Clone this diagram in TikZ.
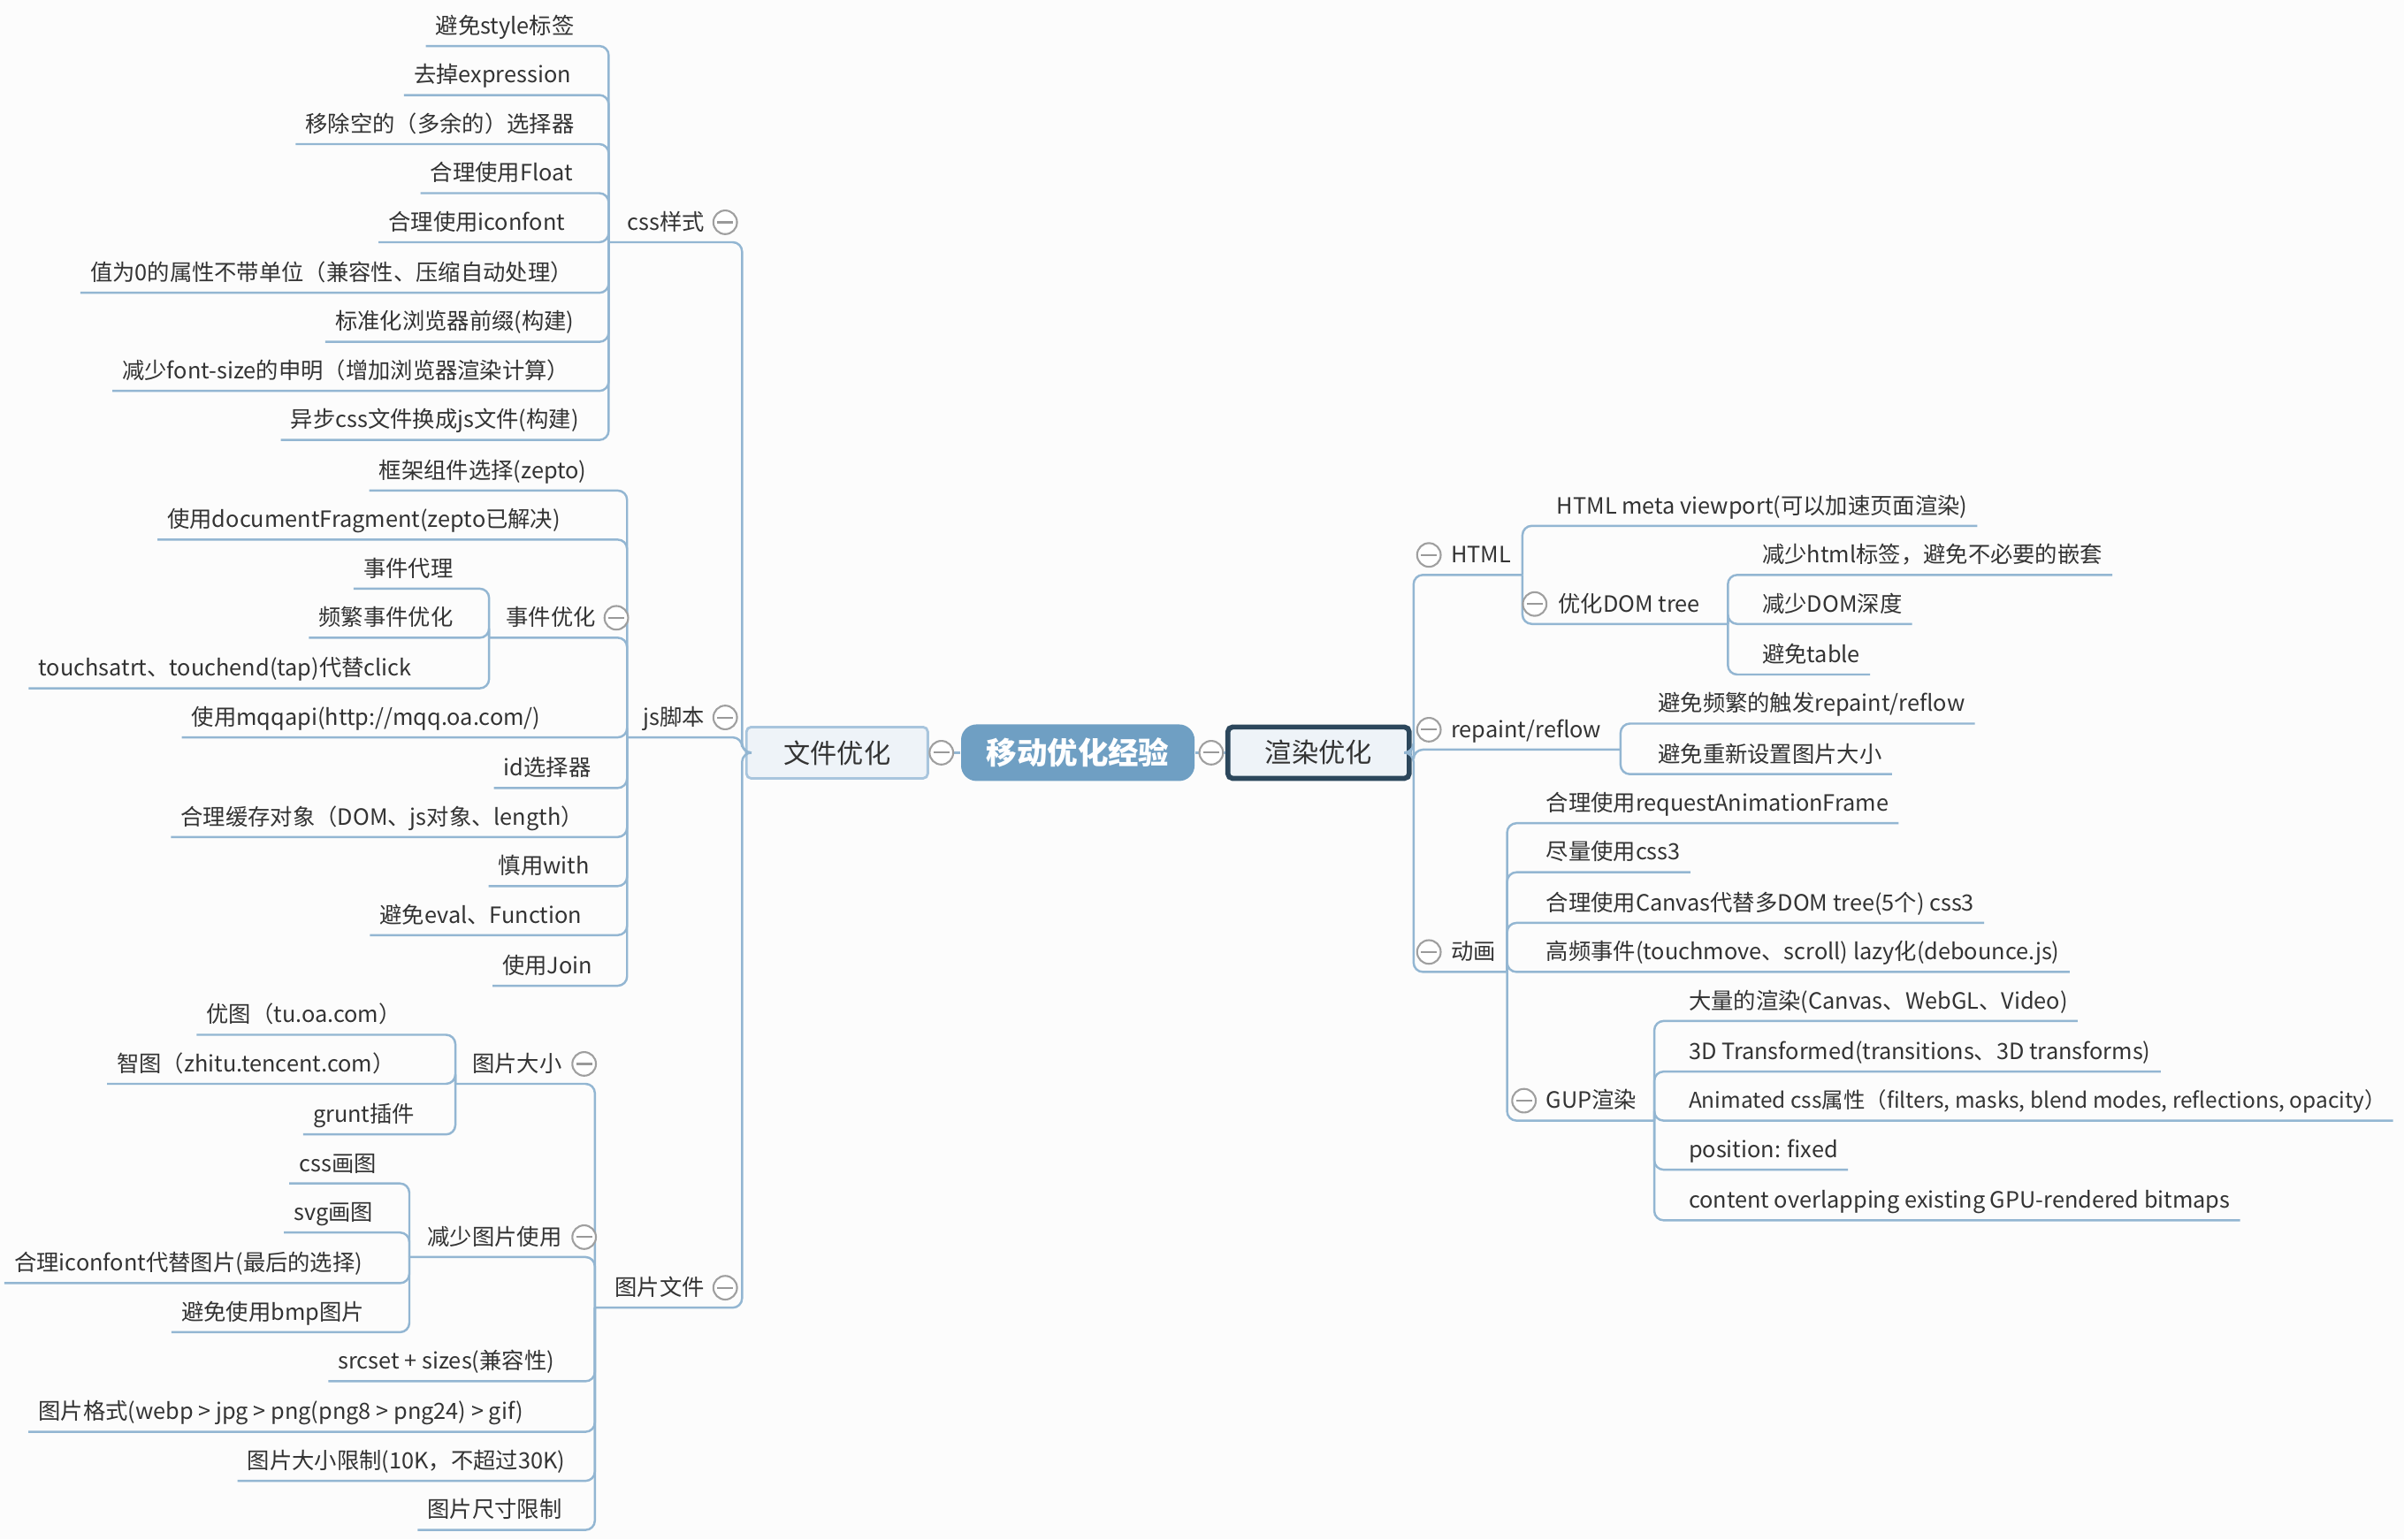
\documentclass[tikz,border=0pt]{standalone}
\usepackage{xcolor}
\usepackage{tikz}
\usepackage{fontspec}
\setmainfont{Noto Sans CJK SC}

\definecolor{linkblue}{HTML}{93B6D2}
\definecolor{rootblue}{HTML}{6F9FC3}
\definecolor{mainfill}{HTML}{EEF3F8}
\definecolor{mainedge}{HTML}{A8C5DD}
\definecolor{darkedge}{HTML}{2C475C}
\definecolor{inktext}{HTML}{333333}
\definecolor{paper}{HTML}{FCFCFC}

\begin{document}
\begin{tikzpicture}[x=0.01734cm, y=-0.01734cm,
    leaf/.style={text=inktext, font=\fontsize{7.2}{8}\selectfont, inner xsep=3pt, inner ysep=2.5pt, text height=6.3pt, text depth=1.2pt},
    branch/.style={draw=linkblue, line width=0.7pt, rounded corners=3pt},
    fold/.style={circle, draw=gray!75, fill=white, line width=0.6pt, minimum size=7.6pt, inner sep=0pt,
        path picture={\draw[gray!80, line width=0.6pt] ([xshift=1.2pt]path picture bounding box.west) -- ([xshift=-1.2pt]path picture bounding box.east);}},
    rootbox/.style={rounded corners=5pt, fill=rootblue, text=white, font=\fontsize{9.8}{11}\selectfont\bfseries, minimum width=2.64cm, minimum height=0.64cm},
    mainbox/.style={fill=mainfill, text=inktext, font=\fontsize{8.6}{10}\selectfont, minimum width=2.05cm, minimum height=0.58cm, rounded corners=1.5pt}]
    \useasboundingbox (0,0) rectangle (1568,1004);
    \fill[paper] (0,0) rectangle (1568,1004);

    % Nodes
    \node (root) [rootbox] at (703,491) {移动优化经验};
    \node (file) [mainbox, draw=mainedge, line width=0.8pt] at (546,491) {文件优化};
    \node (render) [mainbox, draw=darkedge, line width=1.6pt] at (860,491) {渲染优化};

    % left side: css
    \coordinate (filej) at (484,491);
    \coordinate (cssj) at (397,158);
    \node (css) [leaf, anchor=south east] at (466,158) {css样式};
    \node (cs1) [leaf, anchor=south east] at (381,30) {避免style标签};
    \node (cs2) [leaf, anchor=south east] at (379,62) {去掉expression};
    \node (cs3) [leaf, anchor=south east] at (381,94) {移除空的（多余的）选择器};
    \node (cs4) [leaf, anchor=south east] at (380,126) {合理使用Float};
    \node (cs5) [leaf, anchor=south east] at (375,158) {合理使用iconfont};
    \node (cs6) [leaf, anchor=south east] at (380,191) {值为0的属性不带单位（兼容性、压缩自动处理）};
    \node (cs7) [leaf, anchor=south east] at (381,223) {标准化浏览器前缀(构建)};
    \node (cs8) [leaf, anchor=south east] at (378,255) {减少font-size的申明（增加浏览器渲染计算）};
    \node (cs9) [leaf, anchor=south east] at (384,287) {异步css文件换成js文件(构建)};

    % left side: js
    \coordinate (jsj) at (409,481);
    \coordinate (evtj) at (319,416);
    \node (js) [leaf, anchor=south east] at (466,481) {js脚本};
    \node (js1) [leaf, anchor=south east] at (389,320) {框架组件选择(zepto)};
    \node (js2) [leaf, anchor=south east] at (372,352) {使用documentFragment(zepto已解决)};
    \node (evt) [leaf, anchor=south east] at (395,416) {事件优化};
    \node (ev1) [leaf, anchor=south east] at (302,384) {事件代理};
    \node (ev2) [leaf, anchor=south east] at (302,416) {频繁事件优化};
    \node (ev3) [leaf, anchor=south east] at (275,449) {touchsatrt、touchend(tap)代替click};
    \node (js3) [leaf, anchor=south east] at (359,481) {使用mqqapi(http://mqq.oa.com/)};
    \node (js4) [leaf, anchor=south east] at (392,514) {id选择器};
    \node (js5) [leaf, anchor=south east] at (387,546) {合理缓存对象（DOM、js对象、length）};
    \node (js6) [leaf, anchor=south east] at (391,578) {慎用with};
    \node (js7) [leaf, anchor=south east] at (386,610) {避免eval、Function};
    \node (js8) [leaf, anchor=south east] at (393,643) {使用Join};

    % left side: pictures
    \coordinate (picj) at (388,853);
    \coordinate (sizej) at (297,707);
    \coordinate (lessj) at (267,820);
    \node (pic) [leaf, anchor=south east] at (466,853) {图片文件};
    \node (size) [leaf, anchor=south east] at (373,707) {图片大小};
    \node (sz1) [leaf, anchor=south east] at (268,675) {优图（tu.oa.com）};
    \node (sz2) [leaf, anchor=south east] at (264,707) {智图（zhitu.tencent.com）};
    \node (sz3) [leaf, anchor=south east] at (277,740) {grunt插件};
    \node (less) [leaf, anchor=south east] at (373,820) {减少图片使用};
    \node (ls1) [leaf, anchor=south east] at (252,772) {css画图};
    \node (ls2) [leaf, anchor=south east] at (250,804) {svg画图};
    \node (ls3) [leaf, anchor=south east] at (243,837) {合理iconfont代替图片(最后的选择)};
    \node (ls4) [leaf, anchor=south east] at (244,869) {避免使用bmp图片};
    \node (pc1) [leaf, anchor=south east] at (368,901) {srcset + sizes(兼容性)};
    \node (pc2) [leaf, anchor=south east] at (348,934) {图片格式(webp > jpg > png(png8 > png24) > gif)};
    \node (pc3) [leaf, anchor=south east] at (375,966) {图片大小限制(10K，不超过30K)};
    \node (pc4) [leaf, anchor=south east] at (373,998) {图片尺寸限制};

    % right side
    \coordinate (renderj) at (922,491);
    \coordinate (htmlj) at (993,375);
    \coordinate (domj) at (1127,407);
    \coordinate (paintj) at (1057,489);
    \coordinate (animj) at (983,634);
    \coordinate (gpuj) at (1079,731);
    \node (html) [leaf, anchor=south west] at (940,375) {HTML};
    \node (ht1) [leaf, anchor=south west] at (1009,343) {HTML meta viewport(可以加速页面渲染)};
    \node (dom) [leaf, anchor=south west] at (1010,407) {优化DOM tree};
    \node (dm1) [leaf, anchor=south west] at (1143,375) {减少html标签，避免不必要的嵌套};
    \node (dm2) [leaf, anchor=south west] at (1143,407) {减少DOM深度};
    \node (dm3) [leaf, anchor=south west] at (1143,440) {避免table};
    \node (paint) [leaf, anchor=south west] at (940,489) {repaint/reflow};
    \node (rp1) [leaf, anchor=south west] at (1075,472) {避免频繁的触发repaint/reflow};
    \node (rp2) [leaf, anchor=south west] at (1075,505) {避免重新设置图片大小};
    \node (anim) [leaf, anchor=south west] at (940,634) {动画};
    \node (an1) [leaf, anchor=south west] at (1002,537) {合理使用requestAnimationFrame};
    \node (an2) [leaf, anchor=south west] at (1002,569) {尽量使用css3};
    \node (an3) [leaf, anchor=south west] at (1002,602) {合理使用Canvas代替多DOM tree(5个) css3};
    \node (an4) [leaf, anchor=south west] at (1002,634) {高频事件(touchmove、scroll) lazy化(debounce.js)};
    \node (gpu) [leaf, anchor=south west] at (1002,731) {GUP渲染};
    \node (gp1) [leaf, anchor=south west] at (1095,666) {大量的渲染(Canvas、WebGL、Video)};
    \node (gp2) [leaf, anchor=south west] at (1095,699) {3D Transformed(transitions、3D transforms)};
    \node (gp3) [leaf, anchor=south west, font=\fontsize{6.95}{8}\selectfont, inner xsep=2pt] at (1097,731) {Animated css属性（filters, masks, blend modes, reflections, opacity）};
    \node (gp4) [leaf, anchor=south west] at (1095,763) {position: fixed};
    \node (gp5) [leaf, anchor=south west] at (1095,796) {content overlapping existing GPU-rendered bitmaps};

    % Connectors
    \draw[branch] (root) -- (file);
    \draw[branch] (root) -- (render);

    \draw[branch] (file.west) -- (filej) |- (cssj);
    \draw[branch] (file.west) -- (filej) |- (jsj);
    \draw[branch] (file.west) -- (filej) |- (picj);

    \draw[branch] (cssj) |- (cs1.south west);
    \draw[branch] (cssj) |- (cs2.south west);
    \draw[branch] (cssj) |- (cs3.south west);
    \draw[branch] (cssj) |- (cs4.south west);
    \draw[branch] (cssj) |- (cs5.south west);
    \draw[branch] (cssj) |- (cs6.south west);
    \draw[branch] (cssj) |- (cs7.south west);
    \draw[branch] (cssj) |- (cs8.south west);
    \draw[branch] (cssj) |- (cs9.south west);

    \draw[branch] (jsj) |- (js1.south west);
    \draw[branch] (jsj) |- (js2.south west);
    \draw[branch] (jsj) |- (evtj);
    \draw[branch] (evtj) |- (ev1.south west);
    \draw[branch] (evtj) |- (ev2.south west);
    \draw[branch] (evtj) |- (ev3.south west);
    \draw[branch] (jsj) |- (js3.south west);
    \draw[branch] (jsj) |- (js4.south west);
    \draw[branch] (jsj) |- (js5.south west);
    \draw[branch] (jsj) |- (js6.south west);
    \draw[branch] (jsj) |- (js7.south west);
    \draw[branch] (jsj) |- (js8.south west);

    \draw[branch] (picj) |- (sizej);
    \draw[branch] (sizej) |- (sz1.south west);
    \draw[branch] (sizej) |- (sz2.south west);
    \draw[branch] (sizej) |- (sz3.south west);
    \draw[branch] (picj) |- (lessj);
    \draw[branch] (lessj) |- (ls1.south west);
    \draw[branch] (lessj) |- (ls2.south west);
    \draw[branch] (lessj) |- (ls3.south west);
    \draw[branch] (lessj) |- (ls4.south west);
    \draw[branch] (picj) |- (pc1.south west);
    \draw[branch] (picj) |- (pc2.south west);
    \draw[branch] (picj) |- (pc3.south west);
    \draw[branch] (picj) |- (pc4.south west);

    \draw[branch] (render.east) -- (renderj) |- (htmlj);
    \draw[branch] (render.east) -- (renderj) |- (paintj);
    \draw[branch] (render.east) -- (renderj) |- (animj);

    \draw[branch] (htmlj) |- (ht1.south east);
    \draw[branch] (htmlj) |- (domj);
    \draw[branch] (domj) |- (dm1.south east);
    \draw[branch] (domj) |- (dm2.south east);
    \draw[branch] (domj) |- (dm3.south east);
    \draw[branch] (paintj) |- (rp1.south east);
    \draw[branch] (paintj) |- (rp2.south east);
    \draw[branch] (animj) |- (an1.south east);
    \draw[branch] (animj) |- (an2.south east);
    \draw[branch] (animj) |- (an3.south east);
    \draw[branch] (animj) |- (an4.south east);
    \draw[branch] (animj) |- (gpuj);
    \draw[branch] (gpuj) |- (gp1.south east);
    \draw[branch] (gpuj) |- (gp2.south east);
    \draw[branch] (gpuj) |- (gp3.south east);
    \draw[branch] (gpuj) |- (gp4.south east);
    \draw[branch] (gpuj) |- (gp5.south east);

    % fold markers
    \node (foldfile) [fold] at (614,491) {};
    \node (foldrender) [fold] at (790,491) {};
    \node (foldcss) [fold] at (473,145) {};
    \node (foldjs) [fold] at (473,468) {};
    \node (foldpic) [fold] at (473,840) {};
    \node (foldevt) [fold] at (402,403) {};
    \node (foldsize) [fold] at (381,694) {};
    \node (foldless) [fold] at (381,807) {};
    \node (foldhtml) [fold] at (932,362) {};
    \node (folddom) [fold] at (1001,394) {};
    \node (foldpaint) [fold] at (932,476) {};
    \node (foldanim) [fold] at (932,621) {};
    \node (foldgpu) [fold] at (994,718) {};
\end{tikzpicture}
\end{document}
